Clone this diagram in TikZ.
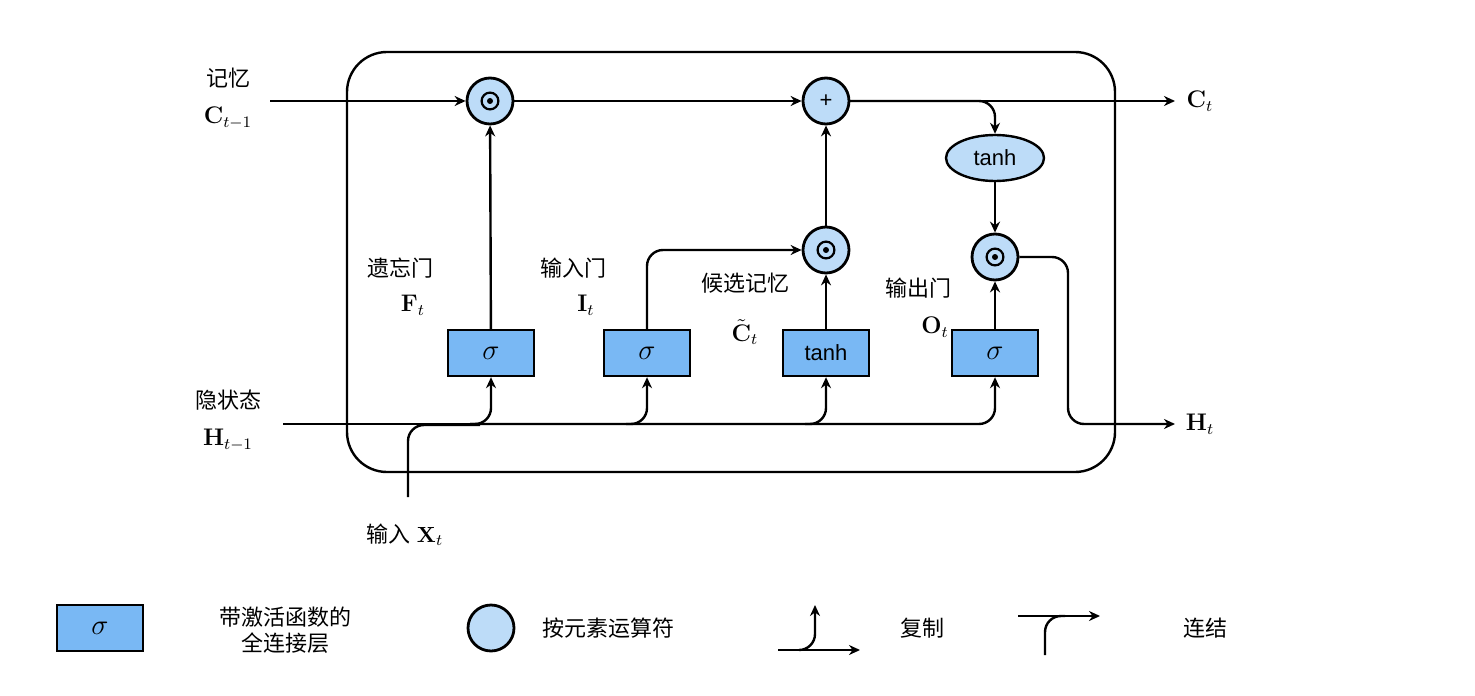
\documentclass[tikz,border=0pt]{standalone}
\usepackage{amsmath}
\usepackage[no-math]{fontspec}
\setmainfont{Liberation Sans}
\newfontfamily\cjk{Noto Sans CJK SC}
\usetikzlibrary{shapes.geometric,arrows.meta}
\definecolor{boxblue}{HTML}{79B8F4}
\definecolor{opblue}{HTML}{BDDCF8}
\newcommand{\hadam}{\tikz[baseline=-0.6ex,x=1pt,y=1pt]{\draw[line width=1.1pt] (0,0) circle (4.2); \fill (0,0) circle (1.5);}}
\begin{document}
\begin{tikzpicture}[x=0.5pt,y=-0.5pt,>={Stealth[length=5.5pt,width=5pt]},line width=1.2pt,
    every node/.style={font=\fontsize{11}{13}\selectfont},
    layer/.style={draw,rectangle,fill=boxblue,minimum width=43pt,minimum height=23pt,inner sep=0pt},
    op/.style={draw,circle,fill=opblue,minimum size=23pt,inner sep=0pt,line width=1.4pt},
    act/.style={draw,ellipse,fill=opblue,minimum width=49pt,minimum height=23pt,inner sep=0pt},
    lbl/.style={font=\cjk\fontsize{11}{13}\selectfont},
    var/.style={font=\fontsize{12}{14}\selectfont}]
  \useasboundingbox[fill=white] (0,0) rectangle (1475,695);
  % cell
  \draw[rounded corners=20pt] (347,52) rectangle (1115,472);
  % operators
  \node[op] (mulf) at (490,101) {\hadam};
  \node[op] (add) at (826,101) {+};
  \node[op] (muli) at (826,250) {\hadam};
  \node[op] (mulo) at (995,257) {\hadam};
  \node[act] (tanhc) at (995,158) {tanh};
  % layers
  \node[layer] (gf) at (491,353) {\Large$\sigma$};
  \node[layer] (gi) at (647,353) {\Large$\sigma$};
  \node[layer] (gc) at (826,353) {tanh};
  \node[layer] (go) at (995,353) {\Large$\sigma$};
  % ends
  \coordinate (cin) at (270,101);
  \coordinate (cout) at (1175,101);
  \coordinate (hin) at (283,424);
  \coordinate (hout) at (1175,424);
  \coordinate (xin) at (408,497);
  % labels
  \node[lbl] at (228,78) {记忆};
  \node[var] at (228,118) {$\mathbf{C}_{t-1}$};
  \node[lbl] at (228,400) {隐状态};
  \node[var] at (228,440) {$\mathbf{H}_{t-1}$};
  \node[lbl] at (400,268) {遗忘门};
  \node[var] at (413,305) {$\mathbf{F}_t$};
  \node[lbl] at (573,268) {输入门};
  \node[var] at (586,305) {$\mathbf{I}_t$};
  \node[lbl] at (745,283) {候选记忆};
  \node[var] at (745,332) {$\tilde{\mathbf{C}}_t$};
  \node[lbl] at (918,288) {输出门};
  \node[var] at (935,327) {$\mathbf{O}_t$};
  \node[var] at (1200,101) {$\mathbf{C}_t$};
  \node[var] at (1200,424) {$\mathbf{H}_t$};
  \node at (405,535) {{\cjk 输入} $\mathbf{X}_t$};
  % memory path
  \draw[->] (cin) -- (mulf);
  \draw[->] (mulf) -- (add);
  \draw[->] (add) -- (cout);
  \draw[->,rounded corners=8pt] (add.east) -| (tanhc.north);
  \draw[->] (tanhc) -- (mulo);
  \draw[->] (gf) -- (mulf);
  \draw[->,rounded corners=8pt] (gi.north) |- (muli.west);
  \draw[->] (gc) -- (muli);
  \draw[->] (muli) -- (add);
  \draw[->] (go) -- (mulo);
  \draw[->,rounded corners=8pt] (mulo.east) -| (1068,424) -- (hout);
  % hidden state and input
  \draw (hin) -- (480,424);
  \draw[rounded corners=8pt] (xin) |- (480,425);
  \draw[->,rounded corners=8pt] (470,424) -| (gf.south);
  \draw[->,rounded corners=8pt] (470,424) -| (gi.south);
  \draw[->,rounded corners=8pt] (626,424) -| (gc.south);
  \draw[->,rounded corners=8pt] (805,424) -| (go.south);
  % legend
  \node[layer] (lgl) at (100,628) {\Large$\sigma$};
  \node[lbl,align=center] at (285,630) {带激活函数的\\全连接层};
  \node[op] (lgo) at (491,628) {};
  \node[lbl] at (608,628) {按元素运算符};
  \coordinate (cpa) at (778,650);
  \coordinate (cpb) at (860,650);
  \coordinate (cpc) at (815,605);
  \draw[->] (cpa) -- (cpb);
  \draw[->,rounded corners=8pt] (800,650) -| (cpc);
  \node[lbl] at (922,628) {复制};
  \coordinate (cca) at (1018,616);
  \coordinate (ccb) at (1100,616);
  \coordinate (ccc) at (1045,655);
  \draw[->] (cca) -- (ccb);
  \draw[rounded corners=8pt] (ccc) |- (1065,616);
  \node[lbl] at (1205,628) {连结};
\end{tikzpicture}
\end{document}
